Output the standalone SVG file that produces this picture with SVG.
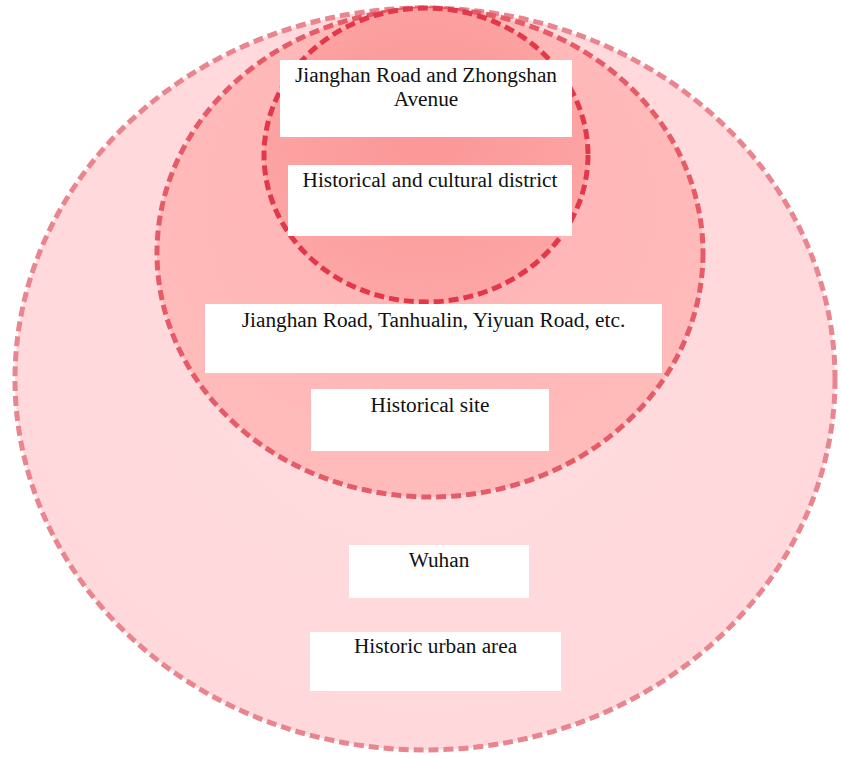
<svg xmlns="http://www.w3.org/2000/svg" width="841" height="758" viewBox="0 0 841 758">
<style>
.lbl{fill:#ffffff}
text{font-size:21.3px;fill:#111111;text-anchor:middle}
.ring{stroke-width:5;stroke-dasharray:10 5}
</style>
<defs>
<radialGradient id="gOuter" cx="0.5" cy="0.45" r="0.55">
<stop offset="0" stop-color="#FFDDE0"/>
<stop offset="1" stop-color="#FFD8DB"/>
</radialGradient>
<radialGradient id="gMid" cx="0.5" cy="0.4" r="0.6">
<stop offset="0" stop-color="#FFB3B3"/>
<stop offset="1" stop-color="#FFBBBB"/>
</radialGradient>
<radialGradient id="gIn" cx="0.5" cy="0.4" r="0.6">
<stop offset="0" stop-color="#FB9696"/>
<stop offset="1" stop-color="#FDA5A5"/>
</radialGradient>
</defs>
<g id="rings">
<g id="outer"><ellipse cx="425" cy="379" rx="410" ry="371" fill="url(#gOuter)" stroke="#E9858F" class="ring"/></g>
<g id="middle"><ellipse cx="430" cy="253" rx="273" ry="244" fill="url(#gMid)" stroke="#E55C68" class="ring"/></g>
<g id="inner"><ellipse cx="426" cy="155" rx="162" ry="147" fill="url(#gIn)" stroke="#E2384A" class="ring"/></g>
</g>
<g id="labels" font-family="'Liberation Serif', 'Times New Roman', 'DejaVu Serif', serif">
<g id="n1"><rect class="lbl" x="280" y="60" width="292" height="77"/><text x="426" y="82">Jianghan Road and Zhongshan</text><text x="426" y="106">Avenue</text></g>
<g id="n2"><rect class="lbl" x="288" y="165" width="284" height="71"/><text x="430" y="187">Historical and cultural district</text></g>
<g id="n3"><rect class="lbl" x="205" y="304" width="457" height="69"/><text x="433.5" y="327">Jianghan Road, Tanhualin, Yiyuan Road, etc.</text></g>
<g id="n4"><rect class="lbl" x="311" y="389" width="238" height="62"/><text x="430" y="412">Historical site</text></g>
<g id="n5"><rect class="lbl" x="349" y="545" width="180" height="53"/><text x="439" y="567">Wuhan</text></g>
<g id="n6"><rect class="lbl" x="310" y="632" width="251" height="59"/><text x="435.5" y="653">Historic urban area</text></g>
</g>
<g id="connectors"></g>
</svg>
